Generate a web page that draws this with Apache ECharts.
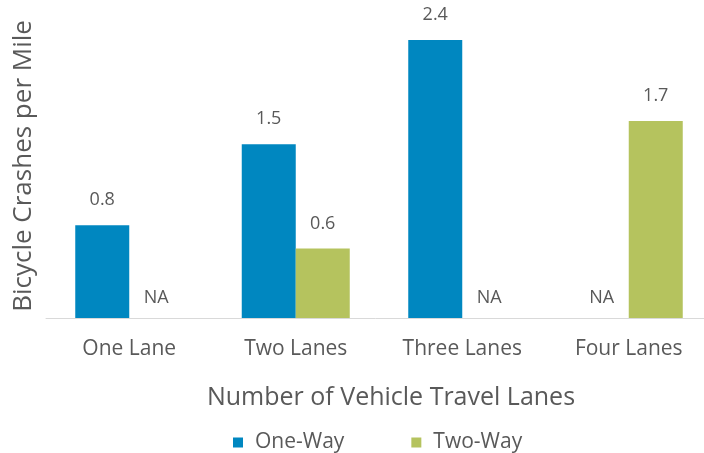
<!DOCTYPE html>
<html><head><meta charset="utf-8">
<script src="https://cdn.jsdelivr.net/npm/echarts@6/dist/echarts.min.js"></script>
<style>html,body{margin:0;padding:0;background:#fff}#c{width:704px;height:453px}</style>
</head><body><div id="c"></div>
<script>
const categories = ['One Lane', 'Two Lanes', 'Three Lanes', 'Four Lanes'];
const oneWay = [0.8, 1.5, 2.4, null];
const twoWay = [null, 0.6, null, 1.7];
const seriesNames = ['One-Way', 'Two-Way'];
const colors = ['#0087C0', '#B5C35E'];
const font = 'Open Sans, Noto Sans, sans-serif';

function toData(arr) {
  return arr.map(v => v === null ? { value: 0, na: true, label: { distance: 11 } } : v);
}
const labelCfg = {
  show: true, position: 'top', distance: 16, color: '#595959', fontSize: 18, fontFamily: font,
  formatter: p => (p.data && p.data.na) ? 'NA' : p.value.toFixed(1)
};
const chart = echarts.init(document.getElementById('c'));
chart.setOption({
  animation: false,
  grid: { left: 46, top: 14, width: 666, height: 304, containLabel: false, outerBoundsMode: 'none' },
  legend: {
    data: seriesNames, top: 427, left: 228, itemWidth: 10, itemHeight: 10, itemGap: 67,
    icon: 'rect', formatter: n => '{s|}' + n,
    textStyle: { color: '#595959', fontSize: 21, fontFamily: font, rich: { s: { width: 7 } } }
  },
  xAxis: {
    type: 'category', data: categories,
    axisLine: { lineStyle: { color: '#d9d9d9', width: 1 } },
    axisTick: { show: false },
    axisLabel: { color: '#595959', fontSize: 21, fontFamily: font, margin: 21 },
    name: 'Number of Vehicle Travel Lanes', nameLocation: 'middle', nameGap: 67,
    nameTextStyle: { color: '#595959', fontSize: 25, fontFamily: font, padding: [0, 0, 0, 24] }
  },
  yAxis: {
    type: 'value', min: 0, max: 2.625,
    axisLine: { show: false }, axisTick: { show: false }, axisLabel: { show: false }, splitLine: { show: false },
    name: 'Bicycle Crashes per Mile', nameLocation: 'middle', nameRotate: 90, nameGap: 9,
    nameTextStyle: { color: '#595959', fontSize: 26, fontFamily: font }
  },
  series: [
    { name: seriesNames[0], type: 'bar', data: toData(oneWay), barWidth: 54, barGap: '0%',
      itemStyle: { color: colors[0] }, label: labelCfg },
    { name: seriesNames[1], type: 'bar', data: toData(twoWay), barWidth: 54, barGap: '0%',
      itemStyle: { color: colors[1] }, label: labelCfg }
  ]
});
</script></body></html>
